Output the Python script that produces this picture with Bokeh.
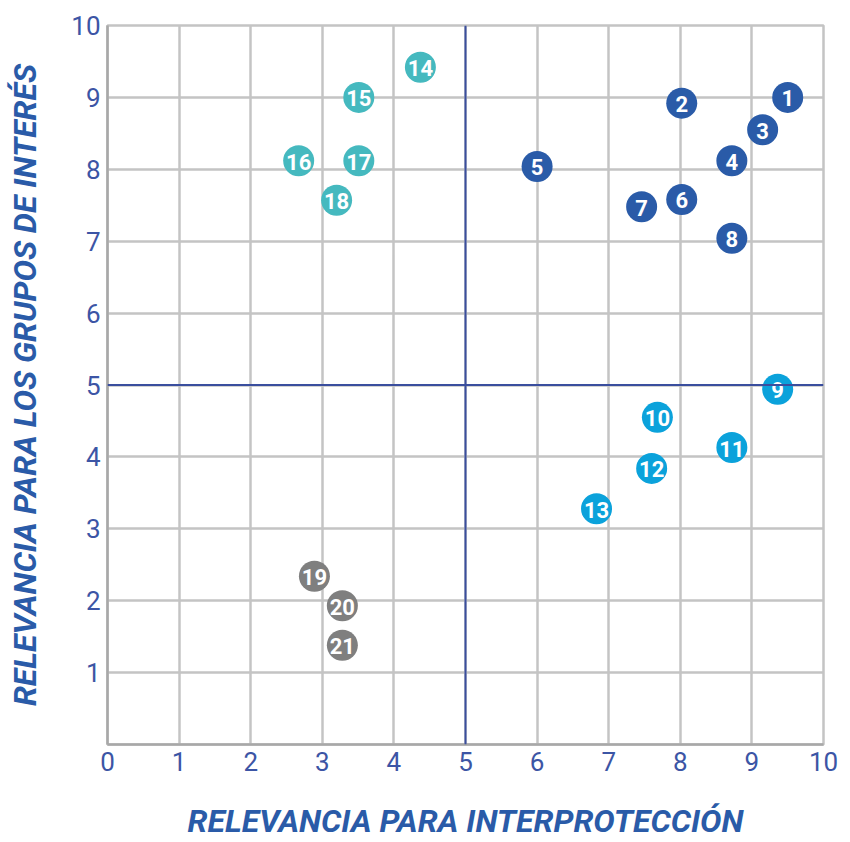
from bokeh.plotting import figure
from bokeh.models import ColumnDataSource, Range1d, FixedTicker, Span
from bokeh.core.properties import value
from bokeh.embed import file_html
from bokeh.resources import INLINE

# ---- data ----
ids = ["1", "2", "3", "4", "5", "6", "7", "8",
       "9", "10", "11", "12", "13",
       "14", "15", "16", "17", "18",
       "19", "20", "21"]
interproteccion = [9.50, 8.02, 9.15, 8.72, 6.00, 8.02, 7.46, 8.72,
                   9.36, 7.68, 8.72, 7.60, 6.83,
                   4.37, 3.51, 2.67, 3.51, 3.20,
                   2.89, 3.28, 3.28]
grupos_interes = [9.00, 8.92, 8.55, 8.12, 8.04, 7.58, 7.48, 7.04,
                  4.94, 4.55, 4.13, 3.84, 3.28,
                  9.42, 9.00, 8.12, 8.12, 7.57,
                  2.34, 1.93, 1.38]
grupo = ["A"] * 8 + ["B"] * 5 + ["C"] * 5 + ["D"] * 3
palette = {"A": "#2A5BA8", "B": "#0BA2DB", "C": "#45B9BF", "D": "#7F7F7F"}
grid_ticks = list(range(0, 11))
x_label_ticks = list(range(0, 11))
y_label_ticks = list(range(1, 11))

colors = [palette[g] for g in grupo]
src = ColumnDataSource(dict(x=interproteccion, y=grupos_interes, id=ids, c=colors))

TICK_COLOR = "#3C55A5"
TITLE_COLOR = "#2A5BA8"

p = figure(width=850, height=842, output_backend="svg", toolbar_location=None,
           x_range=Range1d(0, 10), y_range=Range1d(0, 10),
           min_border_left=107, min_border_right=27, min_border_top=25, min_border_bottom=98)

p.outline_line_color = "#C4C4C4"
p.outline_line_width = 2.5

for grid in (p.xgrid, p.ygrid):
    grid.ticker = FixedTicker(ticks=grid_ticks)
    grid.grid_line_color = "#C4C4C4"
    grid.grid_line_width = 2.5

p.xaxis.ticker = FixedTicker(ticks=x_label_ticks)
p.yaxis.ticker = FixedTicker(ticks=y_label_ticks)

for ax in (p.xaxis, p.yaxis):
    ax.major_tick_line_color = None
    ax.minor_tick_line_color = None
    ax.major_tick_out = 0
    ax.major_tick_in = 0
    ax.axis_line_color = "#A8A8A8"
    ax.axis_line_width = 2.5
    ax.major_label_text_font = "Roboto"
    ax.major_label_text_font_size = "26px"
    ax.major_label_text_color = TICK_COLOR
    ax.axis_label_text_font = "Roboto"
    ax.axis_label_text_font_style = "bold italic"
    ax.axis_label_text_font_size = "32px"
    ax.axis_label_text_color = TITLE_COLOR

p.xaxis.axis_label = "RELEVANCIA PARA INTERPROTECCIÓN"
p.yaxis.axis_label = "RELEVANCIA PARA LOS GRUPOS DE INTERÉS"
p.xaxis.major_label_standoff = 7
p.yaxis.major_label_standoff = 7
p.xaxis.axis_label_standoff = 28
p.yaxis.axis_label_standoff = 24

p.add_layout(Span(location=5, dimension="height", line_color="#3A4E9E", line_width=2))
p.add_layout(Span(location=5, dimension="width", line_color="#3A4E9E", line_width=2))

p.scatter("x", "y", source=src, size=31, fill_color="c", line_color=None)
p.text("x", "y", text="id", source=src, text_color="white",
       text_font=value("Roboto"), text_font_style="bold", text_font_size="22px",
       text_align="center", text_baseline="middle", y_offset=1)

open("out.html", "w").write(file_html(p, INLINE))
